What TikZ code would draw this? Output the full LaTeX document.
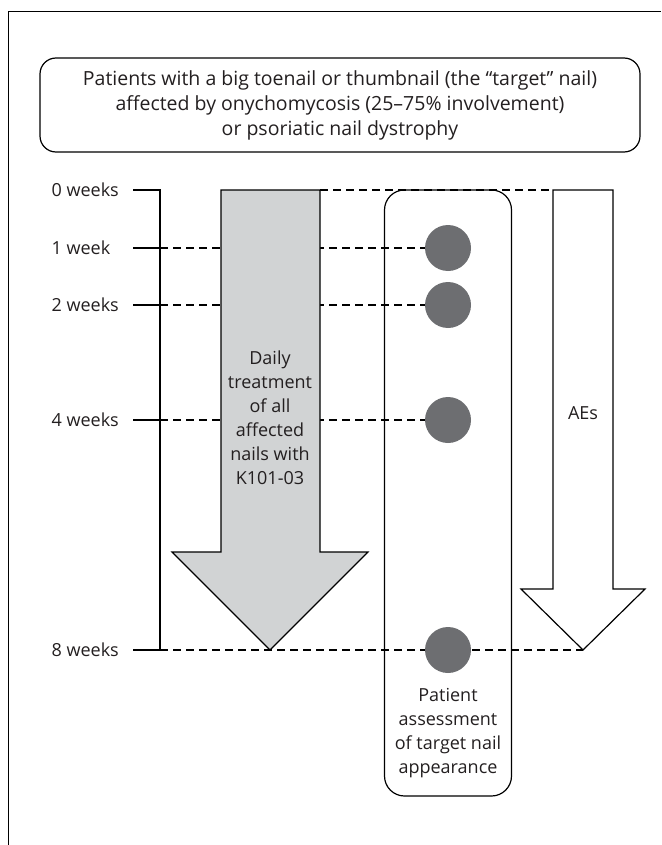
\documentclass[tikz,border=0pt]{standalone}
\usepackage{fontspec}
\setmainfont{Open Sans}
\usetikzlibrary{positioning}
\definecolor{armgrey}{HTML}{D1D3D4}
\definecolor{dotgrey}{HTML}{6D6E71}
\definecolor{ink}{HTML}{231F20}
\tikzset{wk/.style={anchor=west,text=ink,inner sep=0pt}}
\tikzset{tick/.style={line width=2.4pt}}
\tikzset{visitline/.style={dash pattern=on 8pt off 5pt,line width=1.2pt}}
\tikzset{visit/.style={circle,fill=dotgrey,minimum size=46pt,inner sep=0pt}}
\tikzset{txt/.style={align=center,text=ink,font=\fontsize{18}{24}\selectfont}}

\begin{document}
\begin{tikzpicture}[x=1pt,y=-1pt,line width=1.2pt,font=\fontsize{18}{24}\selectfont]
        \useasboundingbox (0,0) rectangle (661,845);
        \draw[line width=1pt] (8,845) -- (8,12) -- (661,12);
        % inclusion box
        \node(incl)[draw,rounded corners=16pt,minimum width=600pt,minimum height=94pt,txt,
          font=\fontsize{19.5}{25}\selectfont] at (340,105)
          {Patients with a big toenail or thumbnail (the “target” nail)\\
           affected by onychomycosis (25–75\% involvement)\\
           or psoriatic nail dystrophy};
        % time axis
        \node(w0)[wk] at (51,190){0 weeks};
        \node(w1)[wk] at (51,248){1 week};
        \node(w2)[wk] at (51,305){2 weeks};
        \node(w4)[wk] at (51,420){4 weeks};
        \node(w8)[wk] at (51,650){8 weeks};
        \coordinate(t0) at (160,190);
        \coordinate(t1) at (160,248);
        \coordinate(t2) at (160,305);
        \coordinate(t4) at (160,420);
        \coordinate(t8) at (160,650);
        % assessment column
        \node(pat)[draw,rounded corners=20pt,minimum width=127pt,minimum height=606pt] at (448,493){};
        \coordinate(c1) at (448,248);
        \coordinate(c2) at (448,305);
        \coordinate(c4) at (448,420);
        \coordinate(c8) at (448,650);
        \coordinate(g0) at (320,190);
        \coordinate(a0) at (553,190);
        \coordinate(atip) at (583,650);
        \draw[visitline] (g0) -- (a0);
        \draw[visitline] (t1) -- (c1);
        \draw[visitline] (t2) -- (c2);
        \draw[visitline] (t4) -- (c4);
        \draw[visitline] (t8) -- (atip);
        \node(v1)[visit] at (c1){};
        \node(v2)[visit] at (c2){};
        \node(v4)[visit] at (c4){};
        \node(v8)[visit] at (c8){};
        \draw[tick] (133,190) -- (t0) -- (t8) -- (133,650);
        \draw[tick] (133,248) -- (t1);
        \draw[tick] (133,305) -- (t2);
        \draw[tick] (133,420) -- (t4);
        % treatment arrow
        \draw[fill=armgrey,line join=miter] (221,190) -- (g0) -- (320,552) -- (368,552) -- (270,650)
          -- (172,552) -- (221,552) -- cycle;
        \node(trt)[txt] at (270,418){Daily\\treatment\\of all\\affected\\nails with\\K101-03};
        % AE arrow
        \draw[fill=white,line join=miter] (a0) -- (613,190) -- (613,589) -- (645,589) -- (atip)
          -- (521,589) -- (553,589) -- cycle;
        \node(ae)[txt] at (583,413){AEs};
        \node(pa)[txt] at (448,733){Patient\\assessment\\of target nail\\appearance};
      \end{tikzpicture}
\end{document}
